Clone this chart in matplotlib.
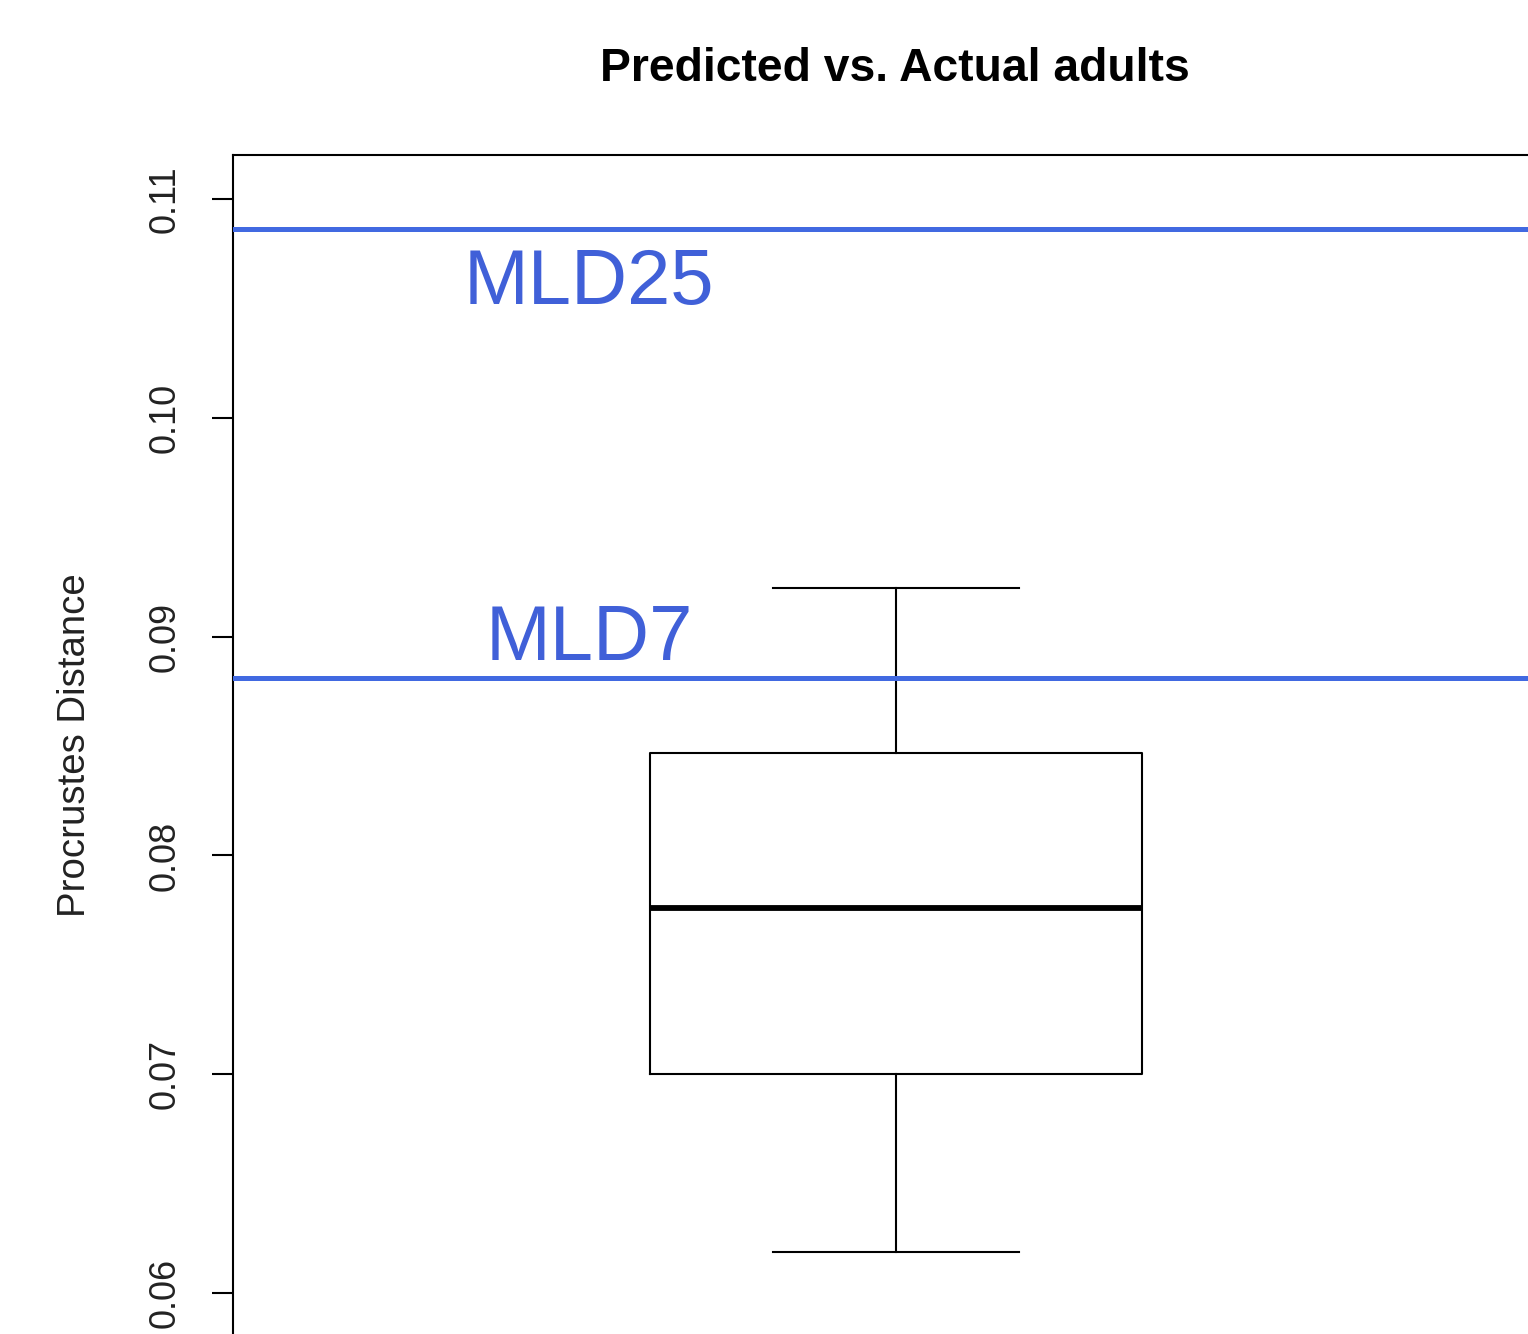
import matplotlib
matplotlib.use("Agg")
import matplotlib.pyplot as plt

# Data
box_stats = {"whislo": 0.0619, "q1": 0.0700, "med": 0.0776, "q3": 0.0847, "whishi": 0.0922}
ref_values = [0.1086, 0.0881]
ref_labels = ["MLD25", "MLD7"]
ref_label_y = [0.1052, 0.08895]
yticks = [0.06, 0.07, 0.08, 0.09, 0.10, 0.11]
ytick_labels = ["0.06", "0.07", "0.08", "0.09", "0.10", "0.11"]
title = "Predicted vs. Actual adults"
ylabel = "Procrustes Distance"

plt.rcParams['font.family'] = ['Liberation Sans', 'DejaVu Sans']
W, H = 1528, 1334
fig = plt.figure(figsize=(W / 100, H / 100), dpi=100)
left, right, top, bottom = 233, 1559, 155, 1337
ax = fig.add_axes([left / W, 1 - bottom / H, (right - left) / W, (bottom - top) / H])

stats = [dict(box_stats, fliers=[])]
ax.bxp(stats, positions=[1], widths=0.4, showfliers=False,
       boxprops=dict(color='black', linewidth=1.5),
       whiskerprops=dict(color='black', linewidth=1.5),
       capprops=dict(color='black', linewidth=1.5),
       medianprops=dict(color='black', linewidth=4.2))

blue = '#4169E1'
for v, lab, ly in zip(ref_values, ref_labels, ref_label_y):
    ax.axhline(v, color=blue, linewidth=3.6, zorder=3)
    ax.text(0.75, ly, lab, color='#4060D8', fontsize=56, ha='center', va='baseline')

ax.set_xlim(0.46, 1.54)
ax.set_ylim(0.058, 0.112)
ax.set_yticks(yticks)
ax.set_yticklabels(ytick_labels)
ax.set_xticks([])
ax.tick_params(axis='y', length=15, width=1.5, pad=21, labelsize=26, labelrotation=90,
               labelcolor='#222222')
for lbl in ax.get_yticklabels():
    lbl.set_va('center')
for s in ax.spines.values():
    s.set_linewidth(1.5)

fig.text(895 / W, 1 - 81 / H, title, fontsize=33.3, fontweight='bold', ha='center', va='baseline')
fig.text(75 / W, 1 - 745 / H, ylabel, fontsize=27.6, rotation=90, ha='center', va='center',
         color='#222222')

fig.savefig('out.png', dpi=100)
